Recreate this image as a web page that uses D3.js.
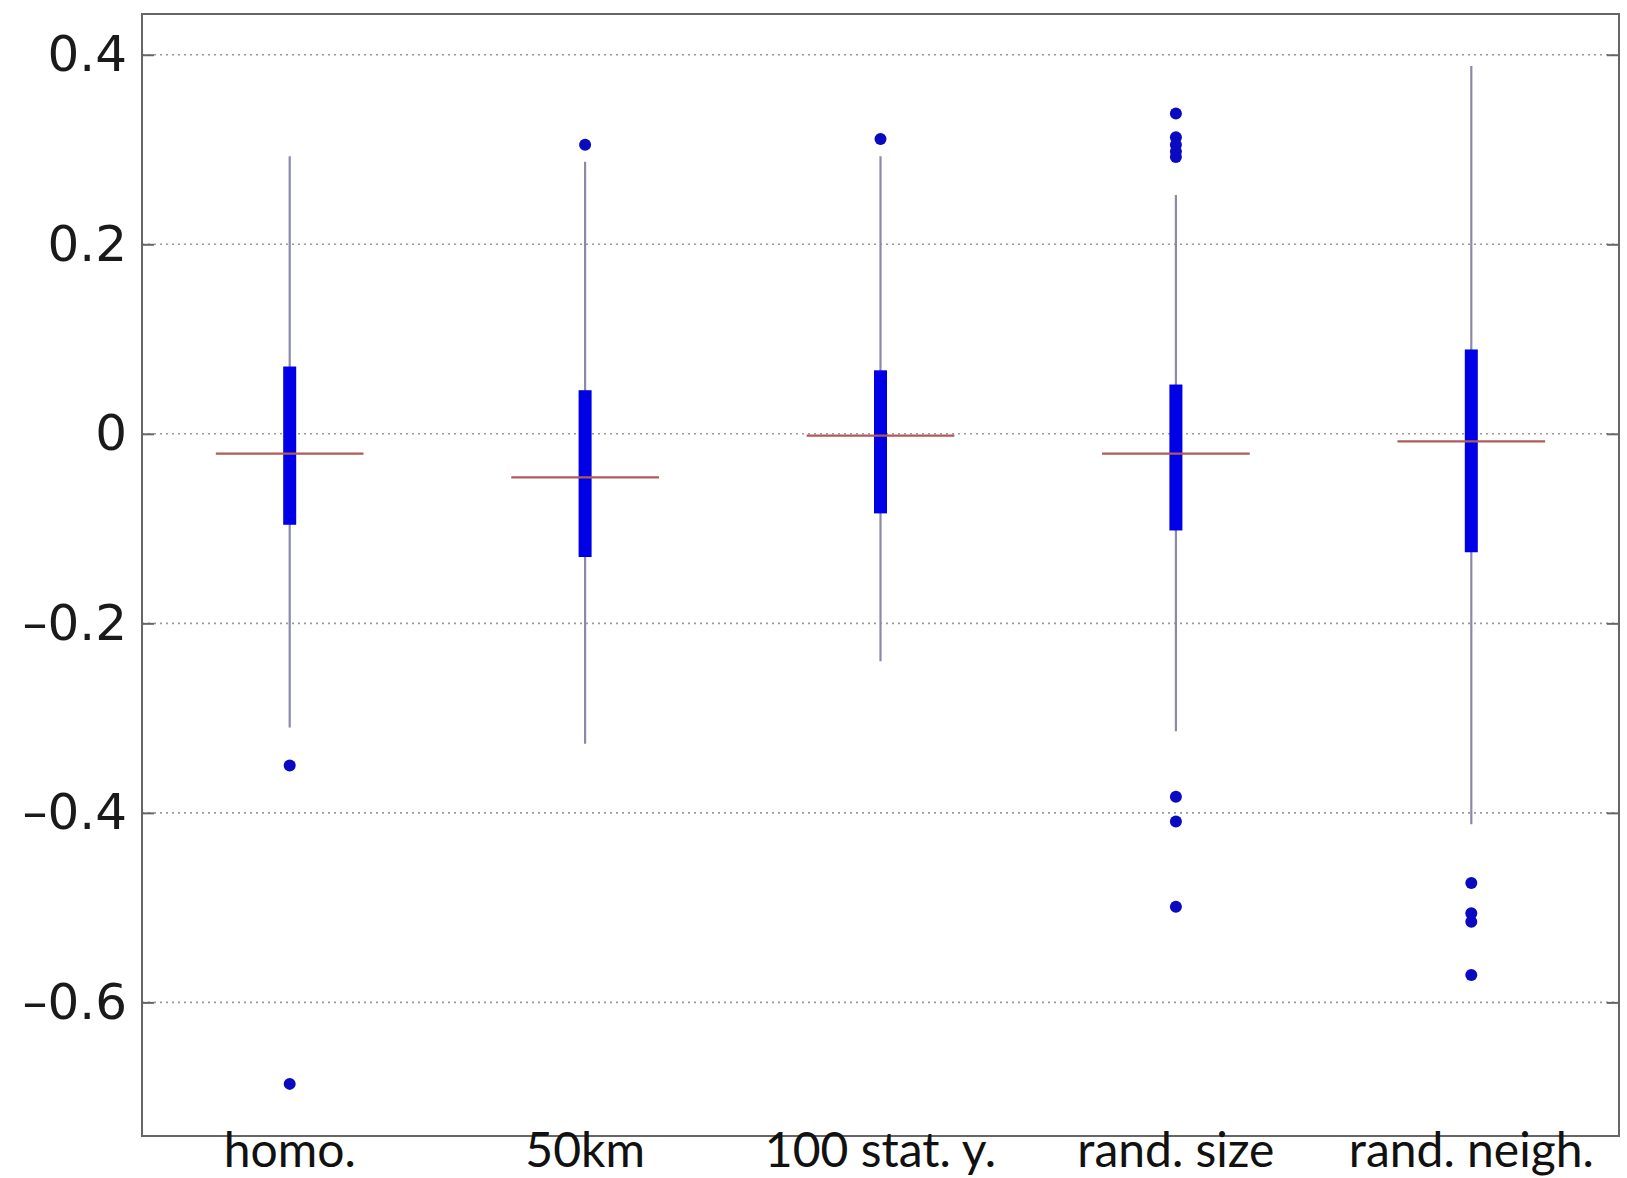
<!DOCTYPE html>
<html>
<head>
<meta charset="utf-8">
<script src="https://d3js.org/d3.v7.min.js"></script>
<style>
  html, body { margin: 0; padding: 0; background: #fff; }
  svg { display: block; }
</style>
</head>
<body>
<svg id="chart" width="1627" height="1178"></svg>
<script>
// Box plot summaries for each scenario
const categories = ["homo.", "50km", "100 stat. y.", "rand. size", "rand. neigh."];
const whiskerHigh = [0.293, 0.287, 0.293, 0.252, 0.388];
const boxHigh     = [0.071, 0.046, 0.067, 0.052, 0.089];
const medians     = [-0.021, -0.046, -0.002, -0.021, -0.008];
const boxLow      = [-0.096, -0.130, -0.084, -0.102, -0.125];
const whiskerLow  = [-0.310, -0.327, -0.240, -0.314, -0.412];
const outliers = [
  [-0.350, -0.686],
  [0.305],
  [0.311],
  [0.338, 0.313, 0.305, 0.298, 0.292, -0.383, -0.409, -0.499],
  [-0.474, -0.506, -0.515, -0.571]
];
const yTicks = [0.4, 0.2, 0, -0.2, -0.4, -0.6];
const yDomain = [-0.741, 0.443];

const svg = d3.select("#chart");
const plotLeft = 142, plotRight = 1619, plotTop = 14, plotBottom = 1136;

const x = d3.scaleBand().domain(categories).range([plotLeft, plotRight]).padding(0);
const y = d3.scaleLinear().domain(yDomain).range([plotBottom, plotTop]);
const cx = c => x(c) + x.bandwidth() / 2;

// dotted grid lines
svg.append("g").selectAll("line").data(yTicks).join("line")
  .attr("x1", plotLeft).attr("x2", plotRight)
  .attr("y1", d => y(d)).attr("y2", d => y(d))
  .attr("stroke", "#9a9a9a").attr("stroke-width", 1.6)
  .attr("stroke-dasharray", "2,4");

// y axis on the left with inward ticks
const fmt = d => d === 0 ? "0" : (d < 0 ? "\u2013" : "") + Math.abs(d).toFixed(1);
const yAxis = svg.append("g").attr("transform", `translate(${plotLeft},0)`)
  .call(d3.axisLeft(y).tickValues(yTicks).tickSize(-12).tickPadding(15).tickFormat(fmt));
yAxis.select(".domain").remove();
yAxis.selectAll(".tick line").attr("stroke", "#666").attr("stroke-width", 2);
yAxis.selectAll(".tick text")
  .attr("font-family", "'DejaVu Sans', Verdana, sans-serif")
  .attr("font-size", 50).attr("fill", "#1a1a1a");

// inward ticks on the right edge
const yAxisR = svg.append("g").attr("transform", `translate(${plotRight},0)`)
  .call(d3.axisRight(y).tickValues(yTicks).tickSize(-12).tickFormat(""));
yAxisR.select(".domain").remove();
yAxisR.selectAll(".tick line").attr("stroke", "#666").attr("stroke-width", 2);

// plot frame
svg.append("rect")
  .attr("x", plotLeft).attr("y", plotTop)
  .attr("width", plotRight - plotLeft).attr("height", plotBottom - plotTop)
  .attr("fill", "none").attr("stroke", "#666").attr("stroke-width", 2);

// category labels
const xAxis = svg.append("g").attr("transform", `translate(0,${plotBottom})`)
  .call(d3.axisBottom(x).tickSize(0));
xAxis.select(".domain").remove();
xAxis.selectAll(".tick text")
  .attr("font-family", "Lato, 'Open Sans', sans-serif")
  .attr("font-size", 48).attr("fill", "#111")
  .attr("y", 31).attr("dy", 0);

const g = svg.append("g");
const idx = categories.map((c, i) => i);

// whiskers
g.selectAll(".whisker").data(idx).join("line").attr("class", "whisker")
  .attr("x1", i => cx(categories[i])).attr("x2", i => cx(categories[i]))
  .attr("y1", i => y(whiskerHigh[i])).attr("y2", i => y(whiskerLow[i]))
  .attr("stroke", "#8a8aa8").attr("stroke-width", 2.2);

// interquartile bars
const boxW = 13;
g.selectAll(".box").data(idx).join("rect").attr("class", "box")
  .attr("x", i => cx(categories[i]) - boxW / 2)
  .attr("width", boxW)
  .attr("y", i => y(boxHigh[i]))
  .attr("height", i => y(boxLow[i]) - y(boxHigh[i]))
  .attr("fill", "#0000e6");

// medians
const medHalf = x.bandwidth() / 4;
g.selectAll(".median").data(idx).join("line").attr("class", "median")
  .attr("x1", i => cx(categories[i]) - medHalf)
  .attr("x2", i => cx(categories[i]) + medHalf)
  .attr("y1", i => y(medians[i])).attr("y2", i => y(medians[i]))
  .attr("stroke", "#b05a5a").attr("stroke-width", 2.2);

// outliers
const pts = [];
outliers.forEach((arr, i) => arr.forEach(v => pts.push({c: categories[i], v})));
g.selectAll(".outlier").data(pts).join("circle").attr("class", "outlier")
  .attr("cx", d => cx(d.c)).attr("cy", d => y(d.v))
  .attr("r", 6).attr("fill", "#0a0ac0");
</script>
</body>
</html>
